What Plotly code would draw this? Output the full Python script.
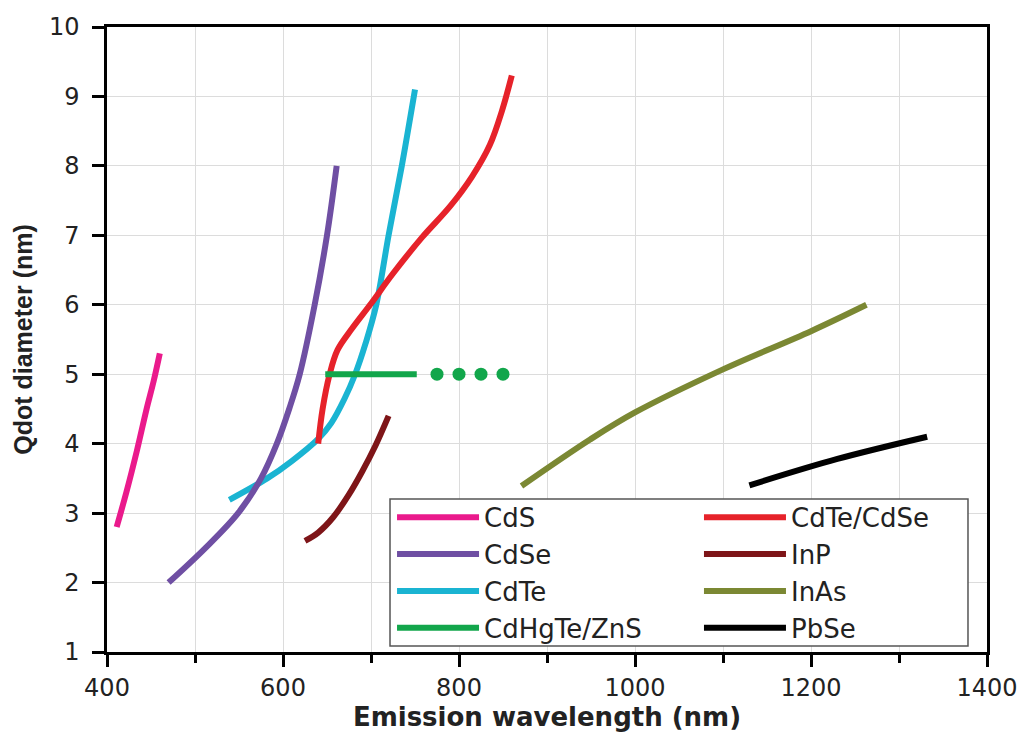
import plotly.graph_objects as go

# ---- data ----
cds_x = [411, 422, 434, 445, 453, 460]
cds_y = [2.8, 3.3, 3.9, 4.5, 4.9, 5.3]

cdse_x = [470, 512, 549, 575, 593, 607, 619, 636, 650, 661]
cdse_y = [2.0, 2.5, 3.0, 3.5, 4.0, 4.5, 5.0, 6.0, 7.0, 8.0]

cdte_x = [539, 582, 610, 640, 655, 670, 682, 694, 706, 720, 735, 750]
cdte_y = [3.19, 3.5, 3.75, 4.07, 4.3, 4.65, 5.0, 5.45, 6.0, 7.0, 8.0, 9.1]

cdhgte_x = [648, 752]
cdhgte_y = [5.0, 5.0]
cdhgte_dots_x = [775, 800, 825, 850]
cdhgte_dots_y = [5.0, 5.0, 5.0, 5.0]

cdtecdse_x = [640, 645, 653, 662, 678, 699, 725, 758, 790, 815, 835, 849, 860]
cdtecdse_y = [4.0, 4.5, 5.0, 5.35, 5.65, 6.0, 6.45, 6.97, 7.42, 7.85, 8.3, 8.8, 9.3]

inp_x = [625, 640, 657, 675, 690, 705, 720]
inp_y = [2.6, 2.72, 2.94, 3.27, 3.6, 3.97, 4.4]

inas_x = [871, 949, 1000, 1100, 1200, 1263]
inas_y = [3.39, 4.06, 4.45, 5.07, 5.62, 6.0]

pbse_x = [1130, 1230, 1332]
pbse_y = [3.40, 3.78, 4.10]

x_ticks = [400, 600, 800, 1000, 1200, 1400]
y_ticks = [1, 2, 3, 4, 5, 6, 7, 8, 9, 10]

colors = {
    "CdS": "#ea1a8c",
    "CdSe": "#6f4fa3",
    "CdTe": "#1ab4d2",
    "CdHgTe/ZnS": "#12a64b",
    "CdTe/CdSe": "#e6222a",
    "InP": "#7e1518",
    "InAs": "#7b8833",
    "PbSe": "#000000",
}
LW = 6

fig = go.Figure()

def add(name, xs, ys, rank, legend):
    fig.add_trace(go.Scatter(
        x=xs, y=ys, name=name, mode="lines",
        line=dict(color=colors[name], width=LW, shape="spline", smoothing=1.0),
        legendrank=rank, legend=legend,
    ))

# drawing order (overlaps) vs legend order (rank)
add("CdS", cds_x, cds_y, 1, "legend")
add("CdTe", cdte_x, cdte_y, 3, "legend")
add("CdSe", cdse_x, cdse_y, 2, "legend")
add("InP", inp_x, inp_y, 2, "legend2")
add("CdTe/CdSe", cdtecdse_x, cdtecdse_y, 1, "legend2")
add("InAs", inas_x, inas_y, 3, "legend2")
add("PbSe", pbse_x, pbse_y, 4, "legend2")
add("CdHgTe/ZnS", cdhgte_x, cdhgte_y, 4, "legend")
fig.add_trace(go.Scatter(
    x=cdhgte_dots_x, y=cdhgte_dots_y, mode="markers", showlegend=False,
    marker=dict(color=colors["CdHgTe/ZnS"], size=13, line=dict(width=0)),
))

# legend frame (common box around both legend columns)
fig.add_shape(type="rect", xref="paper", yref="paper",
              x0=0.3216, x1=0.9784, y0=0.0096, y1=0.2448,
              line=dict(color="#555555", width=1.5), fillcolor="white",
              layer="above")

legend_common = dict(
    orientation="v", yanchor="top", xanchor="left",
    itemwidth=82, bgcolor="rgba(0,0,0,0)", borderwidth=0,
    font=dict(family="DejaVu Sans", size=26, color="#222222"),
    traceorder="normal", tracegroupgap=0,
)

grid = "#dcdcdc"
fig.update_layout(
    width=1029, height=736,
    margin=dict(l=107, r=42, t=27, b=84, autoexpand=False),
    paper_bgcolor="white", plot_bgcolor="white",
    font=dict(family="DejaVu Sans", size=24, color="#222222"),
    showlegend=True,
    legend=dict(x=0.3239, y=0.253, **legend_common),
    legend2=dict(x=0.6727, y=0.253, **legend_common),
)
fig.update_xaxes(
    range=[400, 1400], tickvals=x_ticks, ticktext=[str(v) for v in x_ticks],
    showline=True, linecolor="black", linewidth=2.5, mirror=True,
    ticks="outside", ticklen=12, tickwidth=2.5, tickcolor="black",
    showgrid=True, gridcolor=grid, gridwidth=1,
    minor=dict(dtick=100, tick0=400, ticks="outside", ticklen=8, tickwidth=2.5,
               tickcolor="black", showgrid=True, gridcolor=grid, gridwidth=1),
    zeroline=False,
    tickfont=dict(family="DejaVu Sans", size=24, color="#222222"),
    title=dict(text="<b>Emission wavelength (nm)</b>", standoff=4,
               font=dict(family="DejaVu Sans", size=26, color="#222222")),
)
fig.update_yaxes(
    range=[1, 10], tickvals=y_ticks, ticktext=[str(v) for v in y_ticks],
    showline=True, linecolor="black", linewidth=2.5, mirror=True,
    ticks="outside", ticklen=12, tickwidth=2.5, tickcolor="black",
    ticklabelstandoff=8,
    showgrid=True, gridcolor=grid, gridwidth=1,
    zeroline=False,
    tickfont=dict(family="DejaVu Sans", size=24, color="#222222"),
    title=dict(text="<b>Qdot diameter (nm)</b>", standoff=10,
               font=dict(family="Liberation Sans", size=25, color="#222222")),
)

fig.write_html("out.html")
